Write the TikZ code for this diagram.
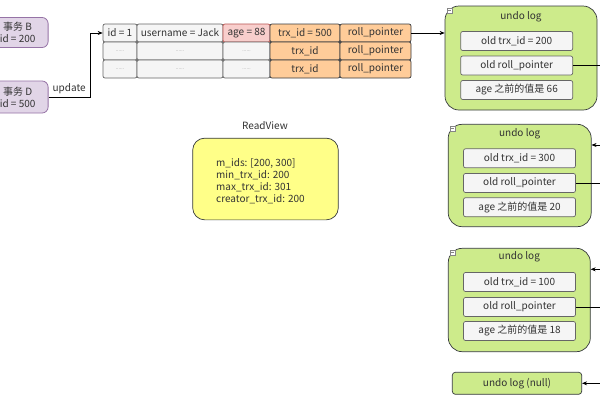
\documentclass[tikz,border=0pt]{standalone}
\usepackage{fontspec}
\setmainfont{Noto Sans CJK SC}
\usetikzlibrary{arrows.meta}

\definecolor{txfill}{HTML}{E1D5E7}
\definecolor{txline}{HTML}{9673A6}
\definecolor{cellfill}{HTML}{F5F5F5}
\definecolor{cellline}{HTML}{666666}
\definecolor{agefill}{HTML}{F8CECC}
\definecolor{ageline}{HTML}{B85450}
\definecolor{ptrfill}{HTML}{FFCC99}
\definecolor{darkline}{HTML}{36393D}
\definecolor{undofill}{HTML}{CDEB8B}
\definecolor{viewfill}{HTML}{FFFF88}
\definecolor{ink}{HTML}{333333}

\tikzset{
	every node/.style={font=\fontsize{10}{11}\selectfont, text=ink, inner sep=0pt},
	txbox/.style={draw=txline, fill=txfill, rounded corners=6pt, minimum width=61pt, align=center, line width=0.8pt},
	cell/.style={draw=cellline, fill=cellfill, rounded corners=2pt, minimum height=18pt, line width=0.7pt},
	agecell/.style={cell, draw=ageline, fill=agefill},
	ptrcell/.style={cell, draw=darkline, fill=ptrfill},
	dots/.style={text=cellline!70, font=\fontsize{5}{6}\selectfont},
	undobox/.style={draw=darkline, fill=undofill, rounded corners=14pt, line width=0.7pt},
	entry/.style={draw=cellline, fill=cellfill, rounded corners=2pt, minimum width=112pt, minimum height=19pt, line width=0.7pt},
	icon/.style={draw=cellline!80, fill=white, minimum size=5pt, line width=0.4pt},
	link/.style={draw=black, line width=0.6pt, -{Stealth[length=5pt,width=4pt]}}
}

\begin{document}
\begin{tikzpicture}[x=1pt, y=-1pt]
	\useasboundingbox (0,0) rectangle (600,400);
	\clip (0,0) rectangle (600,400);
	\fill[white] (0,0) rectangle (600,400);

	\node[txbox, minimum height=30pt] (txB) at (17.6,32.5) {事务 B\\[1pt]id = 200};
	\node[txbox, minimum height=32pt] (txD) at (17.6,97) {事务 D\\[1pt]id = 500};

	\node[cell, minimum width=34pt] (c11) at (120,33) {id = 1};
	\node[cell, minimum width=86pt] (c12) at (180,33) {username = Jack};
	\node[agecell, minimum width=47pt] (c13) at (246.5,33) {age = 88};
	\node[ptrcell, minimum width=70pt] (c14) at (305,33) {trx\_id = 500};
	\node[ptrcell, minimum width=71pt] (c15) at (375.5,33) {roll\_pointer};

	\node[cell, dots, minimum width=34pt] (c21) at (120,51) {......};
	\node[cell, dots, minimum width=86pt] (c22) at (180,51) {......};
	\node[cell, dots, minimum width=47pt] (c23) at (246.5,51) {......};
	\node[ptrcell, minimum width=70pt] (c24) at (305,51) {trx\_id};
	\node[ptrcell, minimum width=71pt] (c25) at (375.5,51) {roll\_pointer};

	\node[cell, dots, minimum width=34pt] (c31) at (120,69) {......};
	\node[cell, dots, minimum width=86pt] (c32) at (180,69) {......};
	\node[cell, dots, minimum width=47pt] (c33) at (246.5,69) {......};
	\node[ptrcell, minimum width=70pt] (c34) at (305,69) {trx\_id};
	\node[ptrcell, minimum width=71pt] (c35) at (375.5,69) {roll\_pointer};

	\node (rvtitle) at (265,126) {ReadView};
	\node[draw=darkline, fill=viewfill, rounded corners=12pt, line width=0.7pt, minimum width=145.6pt, minimum height=81.7pt] (rv) at (265.5,179) {};
	\node[anchor=west, align=left, font=\fontsize{10}{12}\selectfont] (rvtext) at (216,181) {m\_ids: [200, 300]\\min\_trx\_id: 200\\max\_trx\_id: 301\\creator\_trx\_id: 200};

	\node[undobox, minimum width=152pt, minimum height=104pt] (log1) at (521,58) {};
	\node[icon] (ico1) at (449.5,10.5) {};
	\node (t1) at (521,17) {undo log};
	\node[entry] (trx1) at (516.7,41) {old trx\_id = 200};
	\node[entry] (ptr1) at (516.7,65.5) {old roll\_pointer};
	\node[entry] (age1) at (516.7,90) {age 之前的值是 66};

	\node[undobox, minimum width=143pt, minimum height=102.4pt] (log2) at (519.7,175.5) {};
	\node[icon] (ico2) at (452.5,128.5) {};
	\node (t2) at (519.7,134) {undo log};
	\node[entry] (trx2) at (519.5,158.3) {old trx\_id = 300};
	\node[entry] (ptr2) at (519.5,183) {old roll\_pointer};
	\node[entry] (age2) at (519.5,207.2) {age 之前的值是 20};

	\node[undobox, minimum width=142pt, minimum height=103.4pt] (log3) at (519.3,300) {};
	\node[icon] (ico3) at (452.5,252.5) {};
	\node (t3) at (519.3,257) {undo log};
	\node[entry] (trx3) at (519.5,282) {old trx\_id = 100};
	\node[entry] (ptr3) at (519.5,307) {old roll\_pointer};
	\node[entry] (age3) at (519.5,331) {age 之前的值是 18};

	\node[draw=darkline, fill=undofill, rounded corners=3pt, line width=0.7pt, minimum width=129.4pt, minimum height=22pt] (null) at (517,383.3) {undo log (null)};

	\foreach \n in {1,2,3} {
		\draw[cellline!80, line width=0.5pt] ([xshift=-1.5pt]ico\n.center) -- ([xshift=1.5pt]ico\n.center);
	}

	\draw[link] (txD.east) -- node[midway, above=3pt] {update} ++(41.3,0) |- (c11.west);
	\draw[link] (c15.east) -- (c15.east -| log1.west);
	\draw[link] (ptr1.east) -- (614,65.5) -- (614,145) -- (log2.east |- 614,145);
	\draw[link] (ptr2.east) -- (614,183) -- (614,269.3) -- (log3.east |- 614,269.3);
	\draw[link] (ptr3.east) -- (614,307) -- (614,383.3) -- (null.east);
\end{tikzpicture}
\end{document}
